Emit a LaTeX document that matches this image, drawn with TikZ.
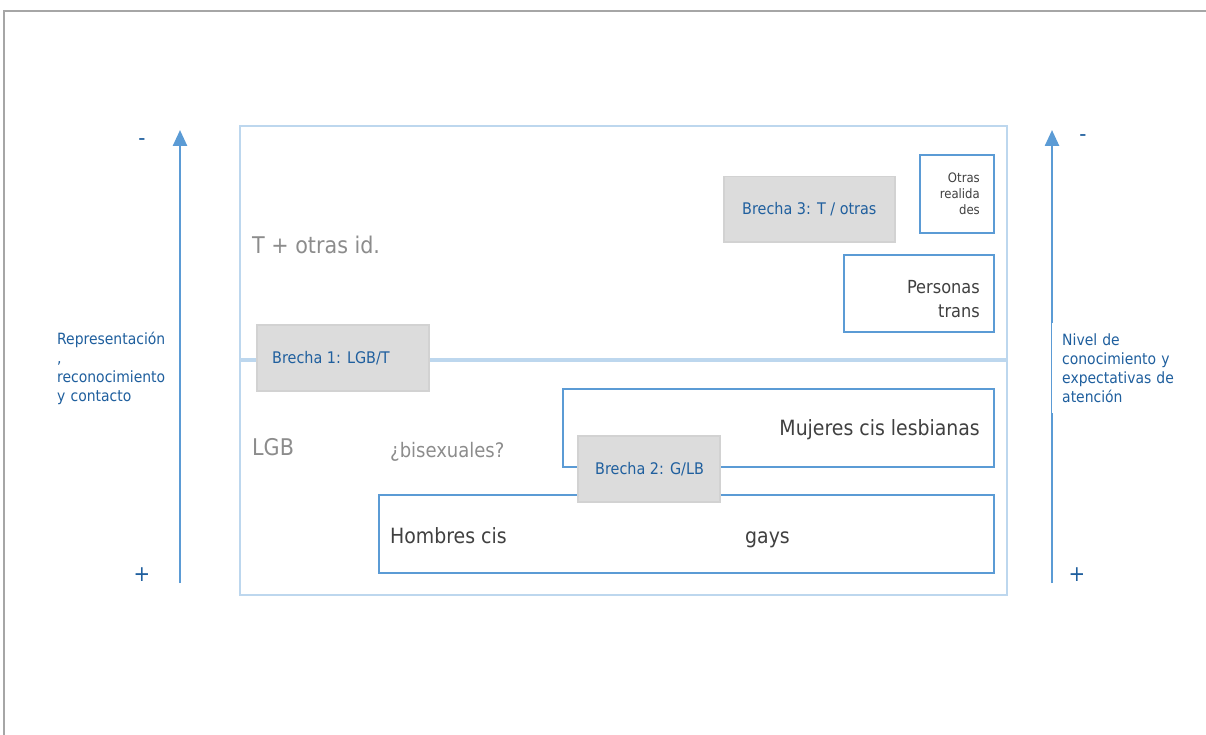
\documentclass[tikz,border=0pt]{standalone}
\usepackage{fontspec}
\setmainfont{DejaVuSansCondensed}[Extension=.ttf]
\usetikzlibrary{arrows.meta}

\definecolor{axisblue}{HTML}{5B9BD5}
\definecolor{frameblue}{HTML}{BDD7EE}
\definecolor{labelblue}{HTML}{1F5F9E}
\definecolor{gapfill}{HTML}{DCDCDC}
\definecolor{gapline}{HTML}{D2D2D2}
\definecolor{softgray}{HTML}{8C8C8C}
\definecolor{darktext}{HTML}{404040}
\definecolor{pagegray}{HTML}{A6A6A6}

\begin{document}
\begin{tikzpicture}[x=1pt,y=-1pt,
    axisline/.style={draw=axisblue,line width=2.5pt,-{Triangle[width=14pt,length=16pt]}},
    axislabel/.style={fill=white,text=labelblue,font=\fontsize{15.5}{19}\selectfont,align=left,anchor=north west,inner ysep=0pt,minimum height=90pt},
    sign/.style={text=labelblue,font=\fontsize{22}{22}\selectfont},
    groupbox/.style={draw=axisblue,line width=2pt,fill=white,anchor=north west},
    gapbox/.style={draw=gapline,fill=gapfill,line width=1.5pt,anchor=north west},
    gaptext/.style={text=labelblue,font=\fontsize{16}{18}\selectfont,anchor=west,inner sep=0pt},
    grouptext/.style={text=darktext,font=\fontsize{21}{24}\selectfont,inner sep=0pt},
    zonetext/.style={text=softgray,font=\fontsize{23}{26}\selectfont,anchor=west,inner sep=0pt}]

    % page frame
    \useasboundingbox (0,0) rectangle (1206,735);
    \draw[pagegray,line width=2.5pt] (4,735) -- (4,11) -- (1206,11);

    % two axes, labels sit on a white patch
    \coordinate (lbot) at (180,583);
    \coordinate (ltop) at (180,130);
    \coordinate (rbot) at (1052,583);
    \coordinate (rtop) at (1052,130);
    \draw[axisline] (lbot) -- (ltop);
    \draw[axisline] (rbot) -- (rtop);
    \node[axislabel,inner xsep=0pt,text width=122pt] (lname) at (57,323)
        {Representación\\,\\reconocimiento\\y contacto};
    \node[axislabel,inner xsep=10pt,text width=140pt] (rname) at (1052,323)
        {Nivel de\\conocimiento y\\expectativas de\\atención};
    \node[sign] (lminus) at (142,142) {-};
    \node[sign] (lplus) at (142,575) {+};
    \node[sign] (rminus) at (1083,138) {-};
    \node[sign] (rplus) at (1077,575) {+};

    % the two zones
    \draw[frameblue,line width=2pt] (240,126) rectangle (1007,595);
    \draw[frameblue,line width=4pt] (240,360) -- (1007,360);
    \node[zonetext] (tzone) at (252,245) {T + otras id.};
    \node[zonetext] (lgbzone) at (252,447) {LGB};
    \node[zonetext,font=\fontsize{20}{22}\selectfont] (bizone) at (390,452) {¿bisexuales?};

    % groups
    \node[groupbox,minimum width=74pt,minimum height=78pt] (otras) at (919,154) {};
    \node[groupbox,minimum width=150pt,minimum height=77pt] (trans) at (843,254) {};
    \node[groupbox,minimum width=431pt,minimum height=78pt] (lesb) at (562,388) {};
    \node[groupbox,minimum width=615pt,minimum height=78pt] (gays) at (378,494) {};
    \node[grouptext,font=\fontsize{13}{16}\selectfont,align=right,anchor=east] (otrastxt) at (980,194) {Otras\\realida\\des};
    \node[grouptext,font=\fontsize{18}{24}\selectfont,align=right,anchor=east] (transtxt) at (980,299) {Personas\\trans};
    \node[grouptext,anchor=base east] (lesbtxt) at (980,435) {Mujeres cis lesbianas};
    \node[grouptext,anchor=base west] (homtxt) at (390,543) {Hombres cis};
    \node[grouptext,anchor=base west] (gaystxt) at (745,543) {gays};

    % gaps
    \node[gapbox,minimum width=172pt,minimum height=66pt] (gap1) at (256,324) {};
    \node[gaptext] (gap1txt) at ([xshift=16pt]gap1.west) {Brecha 1: LGB/T};
    \node[gapbox,minimum width=142pt,minimum height=66pt] (gap2) at (577,435) {};
    \node[gaptext] (gap2txt) at ([xshift=18pt]gap2.west) {Brecha 2: G/LB};
    \node[gapbox,minimum width=171pt,minimum height=65pt] (gap3) at (723,176) {};
    \node[gaptext] (gap3txt) at ([xshift=19pt]gap3.west) {Brecha 3: T / otras};
\end{tikzpicture}
\end{document}
